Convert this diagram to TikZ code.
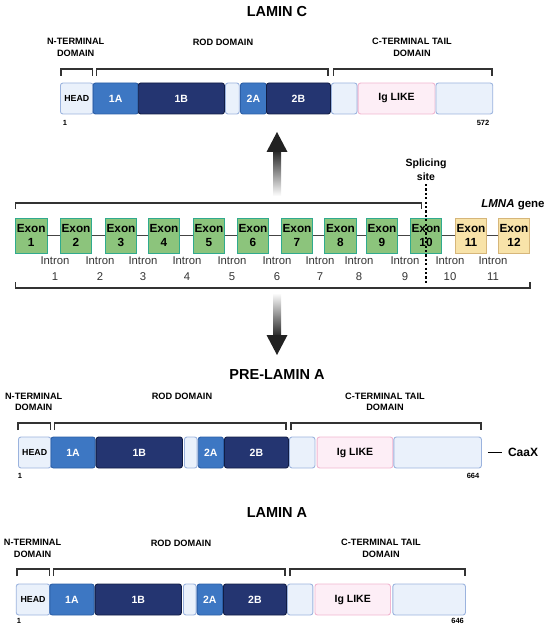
\documentclass[tikz,border=0pt]{standalone}
\usepackage{fontspec}
\setmainfont{Liberation Sans}
\usetikzlibrary{positioning}

\definecolor{paleblue}{HTML}{EAF1FB}
\definecolor{paleedge}{HTML}{9BB3DE}
\definecolor{midblue}{HTML}{3D77C3}
\definecolor{midedge}{HTML}{2B5EA6}
\definecolor{darkblue}{HTML}{243571}
\definecolor{darkedge}{HTML}{111D45}
\definecolor{igpink}{HTML}{FDEEF6}
\definecolor{igedge}{HTML}{F1B6D0}
\definecolor{exongreen}{HTML}{8CC47C}
\definecolor{exonedge}{HTML}{30AA8E}
\definecolor{lateyellow}{HTML}{F8E3A9}
\definecolor{lateedge}{HTML}{D6B67A}
\definecolor{linegray}{HTML}{444444}
\definecolor{arrowgray}{HTML}{222222}

\begin{document}
\begin{tikzpicture}[
      x=1pt, y=-1pt,
      seg_style/.style={rectangle, rounded corners=2.5pt, line width=0.9pt, inner sep=0pt,
        minimum height=31pt, anchor=west, font=\bfseries\fontsize{10.5}{12}\selectfont},
      pale/.style={seg_style, draw=paleedge, fill=paleblue},
      head/.style={pale, font=\bfseries\fontsize{8.8}{10}\selectfont},
      mid/.style={seg_style, draw=midedge, fill=midblue, text=white},
      dark/.style={seg_style, draw=darkedge, fill=darkblue, text=white},
      ig/.style={seg_style, draw=igedge, fill=igpink},
      bracket_style/.style={draw=black!80, line width=1.1pt},
      title_style/.style={font=\bfseries\fontsize{14.5}{16}\selectfont},
      domain_style/.style={font=\bfseries\fontsize{9.2}{11.5}\selectfont, align=center, inner sep=0pt},
      pos_style/.style={font=\bfseries\fontsize{7.5}{9}\selectfont, inner sep=0pt},
      exon_style/.style={draw=exonedge, fill=exongreen, line width=0.9pt, minimum width=31.5pt,
        minimum height=35pt, inner sep=0pt, align=center, font=\bfseries\fontsize{11.8}{14.5}\selectfont},
      late_exon_style/.style={exon_style, draw=lateedge, fill=lateyellow},
      intron_style/.style={font=\fontsize{11.3}{16}\selectfont, text=black!80, align=center, inner sep=0pt},
      intron_line/.style={draw=linegray, line width=1.6pt},
      splice_style/.style={font=\bfseries\fontsize{10.5}{14}\selectfont, align=center, inner sep=0pt},
      splice_line/.style={draw=black, line width=1.2pt, dash pattern=on 2.2pt off 2.2pt}
  ]
      \useasboundingbox (0,0) rectangle (550,628);

      % lamin C
      \node[title_style] (titleC) at (277,12) {LAMIN C};
      \node[domain_style] (cN) at (75.7,47.5) {N-TERMINAL\\DOMAIN};
      \node[domain_style] (cR) at (223,42) {ROD DOMAIN};
      \node[domain_style] (cC) at (412,47.5) {C-TERMINAL TAIL\\DOMAIN};
      \draw[bracket_style] (61,76) |- (92.6,69) -- (92.6,76);
      \draw[bracket_style] (96.8,76) |- (328,69) -- (328,76);
      \draw[bracket_style] (333.5,76) |- (492,69) -- (492,76);
      \foreach \a/\b/\s/\t/\n in {60/92.6/head/HEAD/1, 92.6/137.8/mid/1A/2, 137.8/224/dark/1B/3,
          225/238.8/pale//4, 240/266/mid/2A/5, 266/330/dark/2B/6, 331/356.6/pale//7,
          357.7/434.5/ig/Ig LIKE/8, 435.5/492.3/pale//9}
        \node[\s, minimum width={(\b-\a)*1pt}] (c\n) at (\a,98.5) {\t};
      \node[pos_style] (cfirst) at (65,123) {1};
      \node[pos_style] (clast) at (483,123) {572};

      % arrow up to lamin C
      \shade[top color=arrowgray, bottom color=white] (273,150) rectangle (281,196);
      \fill[arrowgray] (277,132) -- (287.5,152) -- (266.5,152) -- cycle;

      % LMNA gene
      \node[splice_style] (splice) at (426,170) {Splicing\\site};
      \node[splice_style, font=\bfseries\fontsize{11.5}{13}\selectfont] (gene) at (513,205) {\textit{LMNA} gene};
      \draw[bracket_style] (15.8,209) |- (421.7,203) -- (421.7,209);
      \foreach \x [count=\i] in {31.2,76,121,164,209,253,297,340.5,382,426}
        \node[exon_style] (e\i) at (\x,235.5) {Exon\\\i};
      \node[late_exon_style] (e11) at (471,235.5) {Exon\\11};
      \node[late_exon_style] (e12) at (514,235.5) {Exon\\12};
      \foreach \i [count=\j from 2] in {1,...,11}
        \draw[intron_line] (e\i) -- (e\j);
      \foreach \x [count=\i] in {55,100,143,187,232,277,320,359,405,450,493}
        \node[intron_style] (i\i) at (\x,269) {Intron\\\i};
      \draw[bracket_style] (15.8,282) |- (530,288) -- (530,282);
      \coordinate (splice_end) at (426,283);
      \draw[splice_line] ([yshift=-3pt]splice.south) -- (splice_end);

      % arrow down to pre-lamin A
      \shade[top color=white, bottom color=arrowgray] (273,293) rectangle (281,337);
      \fill[arrowgray] (266.5,335) -- (287.5,335) -- (277,355) -- cycle;

      % pre-lamin A
      \node[title_style] (titleP) at (277,375) {PRE-LAMIN A};
      \node[domain_style] (pN) at (33.7,402) {N-TERMINAL\\DOMAIN};
      \node[domain_style] (pR) at (182,396) {ROD DOMAIN};
      \node[domain_style] (pC) at (385,402) {C-TERMINAL TAIL\\DOMAIN};
      \draw[bracket_style] (18,430) |- (50.5,423) -- (50.5,430);
      \draw[bracket_style] (54.7,430) |- (286,423) -- (286,430);
      \draw[bracket_style] (291,430) |- (481,423) -- (481,430);
      \foreach \a/\b/\s/\t/\n in {18/50.5/head/HEAD/1, 50.5/94.7/mid/1A/2, 95.7/182/dark/1B/3,
          184/196.7/pale//4, 197.8/223/mid/2A/5, 224/288/dark/2B/6, 289/314.5/pale//7,
          316.7/392.4/ig/Ig LIKE/8, 393.4/481/pale//9}
        \node[\s, minimum width={(\b-\a)*1pt}] (p\n) at (\a,452.5) {\t};
      \node[pos_style] (pfirst) at (20,476) {1};
      \node[pos_style] (plast) at (473,476) {664};
      \node[font=\bfseries\fontsize{12}{14}\selectfont, inner sep=0pt] (caax) at (523,452.5) {CaaX};
      \draw[line width=1.3pt] ([xshift=6pt]p9.east) -- ([xshift=-6pt]caax.west);

      % lamin A
      \node[title_style] (titleA) at (277,513) {LAMIN A};
      \node[domain_style] (aN) at (32.6,548.5) {N-TERMINAL\\DOMAIN};
      \node[domain_style] (aR) at (181,543) {ROD DOMAIN};
      \node[domain_style] (aC) at (381,548.5) {C-TERMINAL TAIL\\DOMAIN};
      \draw[bracket_style] (17,576) |- (49.4,569) -- (49.4,576);
      \draw[bracket_style] (53.7,576) |- (285,569) -- (285,576);
      \draw[bracket_style] (290,576) |- (465,569) -- (465,576);
      \foreach \a/\b/\s/\t/\n in {15.8/49.4/head/HEAD/1, 49.4/93.6/mid/1A/2, 94.7/181/dark/1B/3,
          183/195.7/pale//4, 196.7/222/mid/2A/5, 223/286/dark/2B/6, 287/312.4/pale//7,
          314.5/390/ig/Ig LIKE/8, 392.4/465/pale//9}
        \node[\s, minimum width={(\b-\a)*1pt}] (a\n) at (\a,599.5) {\t};
      \node[pos_style] (afirst) at (19,621) {1};
      \node[pos_style] (alast) at (457.6,621) {646};
  \end{tikzpicture}
\end{document}
